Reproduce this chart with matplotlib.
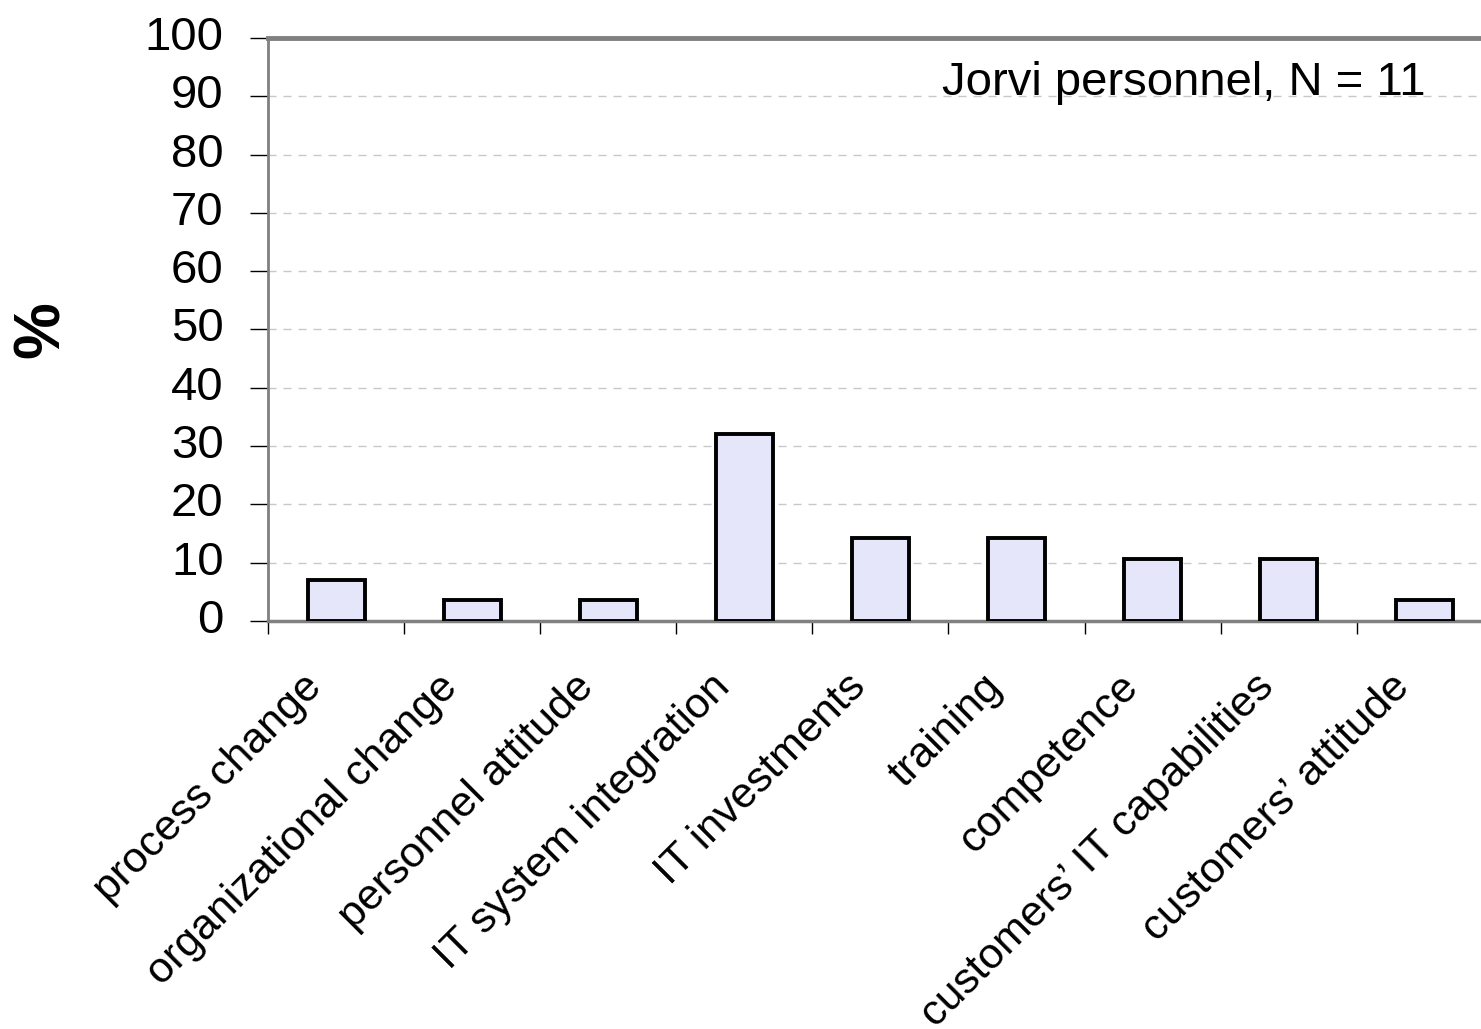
import numpy as np
import matplotlib.pyplot as plt
from matplotlib.ticker import FixedLocator
from matplotlib.transforms import ScaledTranslation

plt.rcParams['font.family'] = ['Liberation Sans', 'DejaVu Sans']

categories = ['process change', 'organizational change', 'personnel attitude',
              'IT system integration', 'IT investments', 'training', 'competence',
              'customers\u2019 IT capabilities', 'customers\u2019 attitude']
percent = [7.1, 3.6, 3.6, 32.1, 14.3, 14.3, 10.7, 10.7, 3.6]
y_ticks = [0, 10, 20, 30, 40, 50, 60, 70, 80, 90, 100]
note = 'Jorvi personnel, N = 11'

fig = plt.figure(figsize=(14.81, 10.29), dpi=100)
ax = fig.add_axes([0.181, 0.3965, 0.827, 0.5666])

x = np.arange(len(categories))
ax.bar(x, percent, width=0.42, color='#e6e6fa', edgecolor='black',
       linewidth=2.8, zorder=3)

ax.set_xlim(-0.5, len(categories) - 0.5)
ax.set_ylim(0, 100)
ax.set_yticks(y_ticks)
ax.yaxis.grid(True, linestyle=(0, (5.8, 5)), color='#c8c8c8', linewidth=1.0, zorder=0)

# category labels on the centres, tick marks on the boundaries
ax.set_xticks(x)
ax.set_xticklabels(categories, rotation=45, ha='right', va='top',
                   rotation_mode='anchor', fontsize=31)
ax.tick_params(axis='x', which='major', length=0, pad=33)
ax.xaxis.set_minor_locator(FixedLocator(np.arange(-0.5, len(categories), 1.0)))
ax.tick_params(axis='x', which='minor', length=9, width=1.0, color='black')
ax.tick_params(axis='y', length=13, width=1.0, color='black', labelsize=34, pad=19)

shift_x = ScaledTranslation(-0.35, 0, fig.dpi_scale_trans)
for lab in ax.get_xticklabels():
    lab.set_transform(lab.get_transform() + shift_x)
shift_y = ScaledTranslation(0, 0.05, fig.dpi_scale_trans)
for lab in ax.get_yticklabels():
    lab.set_transform(lab.get_transform() + shift_y)

for side in ['left', 'bottom', 'top', 'right']:
    ax.spines[side].set_color('#808080')
ax.spines['left'].set_linewidth(2.0)
ax.spines['bottom'].set_linewidth(2.5)
ax.spines['top'].set_linewidth(3.5)
ax.spines['right'].set_linewidth(3.5)

fig.text(42 / 1481, 1 - 330 / 1029, '%', rotation=90, ha='center', va='center',
         fontsize=46, fontweight='bold')

ax.annotate(note, xy=(0.945, 90.2), xycoords=('axes fraction', 'data'),
            ha='right', va='baseline', fontsize=34)

fig.savefig('out.png', dpi=100)
